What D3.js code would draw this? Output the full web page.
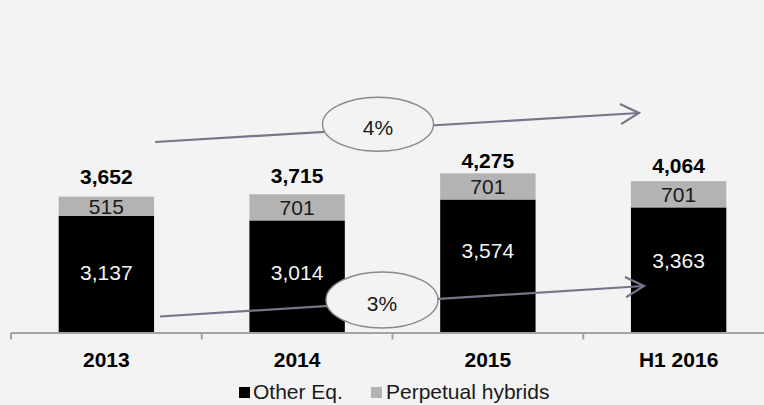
<!DOCTYPE html>
<html>
<head>
<meta charset="utf-8">
<script src="https://cdn.jsdelivr.net/npm/d3@7/dist/d3.min.js"></script>
<style>
  html, body { margin: 0; padding: 0; background: #f3f3f3; }
  svg { display: block; font-family: "Liberation Sans", Arial, sans-serif; }
</style>
</head>
<body>
<svg id="chart" width="764" height="405"></svg>
<script>
// Equity composition by period
const categories = ["2013", "2014", "2015", "H1 2016"];
const otherEq = [3137, 3014, 3574, 3363];
const perpetualHybrids = [515, 701, 701, 701];
const seriesNames = ["Other Eq.", "Perpetual hybrids"];
const growthLabels = ["4%", "3%"];

// Label placement tweaks (px)
const totalLabelLift = [20.6, 18.7, 12.4, 15.6];
const otherLabelShift = [-2, -4, -16, -9.5];

const W = 764, H = 405;
const BG = "#f3f3f3";
const colors = { other: "#000000", hybrid: "#b3b3b3" };

const svg = d3.select("#chart");
svg.append("rect").attr("width", W).attr("height", H).attr("fill", BG);

const rows = categories.map((c, i) => ({ cat: c, other: otherEq[i], hybrid: perpetualHybrids[i] }));
const stacked = d3.stack().keys(["other", "hybrid"])(rows);
const totals = rows.map(r => r.other + r.hybrid);

const x = d3.scaleBand().domain(categories).range([11, 774]).paddingInner(0.5).paddingOuter(0.25);
const y = d3.scaleLinear().domain([0, 8000]).range([333, 34.2]);
const bw = x.bandwidth();

// Stacked bars
const layers = svg.append("g").selectAll("g").data(stacked).join("g")
  .attr("fill", d => colors[d.key]);
layers.selectAll("rect").data(d => d).join("rect")
  .attr("x", d => x(d.data.cat))
  .attr("width", bw)
  .attr("y", d => y(d[1]))
  .attr("height", d => y(d[0]) - y(d[1]));

// Segment labels
const fs = 21;
stacked.forEach(layer => {
  svg.append("g").selectAll("text").data(layer).join("text")
    .attr("x", d => x(d.data.cat) + bw / 2)
    .attr("y", (d, i) => (y(d[0]) + y(d[1])) / 2 + (layer.key === "other" ? otherLabelShift[i] : 0))
    .attr("dy", "0.36em")
    .attr("text-anchor", "middle")
    .attr("font-size", fs)
    .attr("fill", layer.key === "other" ? "#f4f4f4" : "#1a1a1a")
    .text(d => d3.format(",")(d[1] - d[0]));
});

// Totals above bars
svg.append("g").selectAll("text").data(totals).join("text")
  .attr("x", (d, i) => x(categories[i]) + bw / 2)
  .attr("y", (d, i) => y(d) - totalLabelLift[i])
  .attr("dy", "0.36em")
  .attr("text-anchor", "middle")
  .attr("font-size", fs)
  .attr("font-weight", "bold")
  .attr("fill", "#000")
  .text(d => d3.format(",")(d));

// Category axis
const axisY = 333;
const axisColor = "#a3a3a3";
svg.append("line")
  .attr("x1", x.range()[0]).attr("x2", W)
  .attr("y1", axisY).attr("y2", axisY)
  .attr("stroke", axisColor).attr("stroke-width", 2);
const boundaries = d3.range(categories.length + 1).map(i => x.range()[0] + i * x.step());
svg.append("g").selectAll("line").data(boundaries).join("line")
  .attr("x1", d => d).attr("x2", d => d)
  .attr("y1", axisY).attr("y2", axisY + 6.5)
  .attr("stroke", axisColor).attr("stroke-width", 2);
const axis = svg.append("g").attr("transform", `translate(0,${axisY})`)
  .call(d3.axisBottom(x).tickSize(0).tickPadding(19));
axis.select(".domain").remove();
axis.selectAll("text")
  .attr("font-family", "Liberation Sans, Arial, sans-serif")
  .attr("font-size", fs).attr("font-weight", "bold").attr("fill", "#000");

// Growth arrows with ellipse callouts
const arrowColor = "#76768a";
const arrows = [
  { x1: x("2013") + bw + 1, y1: 142, x2: x("H1 2016") + 8, y2: 113, cx: 378, cy: 124.2, rx: 55.5, ry: 27, label: growthLabels[0] },
  { x1: x("2013") + bw + 6, y1: 316.5, x2: x("H1 2016") + 13, y2: 286, cx: 382, cy: 300, rx: 56, ry: 28, label: growthLabels[1] }
];
arrows.forEach(a => {
  const g = svg.append("g");
  g.append("line")
    .attr("x1", a.x1).attr("y1", a.y1).attr("x2", a.x2).attr("y2", a.y2)
    .attr("stroke", arrowColor).attr("stroke-width", 2.2);
  // open chevron head
  const ang = Math.atan2(a.y2 - a.y1, a.x2 - a.x1);
  const len = 21, spread = 0.5;
  const p1 = [a.x2 - len * Math.cos(ang - spread), a.y2 - len * Math.sin(ang - spread)];
  const p2 = [a.x2 - len * Math.cos(ang + spread), a.y2 - len * Math.sin(ang + spread)];
  g.append("path")
    .attr("d", `M${p1[0]},${p1[1]}L${a.x2},${a.y2}L${p2[0]},${p2[1]}`)
    .attr("fill", "none").attr("stroke", arrowColor).attr("stroke-width", 2.2)
    .attr("stroke-linejoin", "miter");
  g.append("ellipse")
    .attr("cx", a.cx).attr("cy", a.cy).attr("rx", a.rx).attr("ry", a.ry)
    .attr("fill", BG).attr("stroke", "#8a8a8a").attr("stroke-width", 1.4);
  g.append("text")
    .attr("x", a.cx).attr("y", a.cy + 3)
    .attr("dy", "0.36em")
    .attr("text-anchor", "middle")
    .attr("font-size", fs).attr("fill", "#1a1a1a")
    .text(a.label);
});

// Legend
const legend = svg.append("g");
const legendItems = [
  { name: seriesNames[0], color: colors.other, sx: 239, tx: 253 },
  { name: seriesNames[1], color: colors.hybrid, sx: 371, tx: 386 }
];
legendItems.forEach(it => {
  legend.append("rect").attr("x", it.sx).attr("y", 387).attr("width", 11).attr("height", 11).attr("fill", it.color);
  legend.append("text").attr("x", it.tx).attr("y", 398.5)
    .attr("font-size", fs).attr("fill", "#1a1a1a").text(it.name);
});
</script>
</body>
</html>
